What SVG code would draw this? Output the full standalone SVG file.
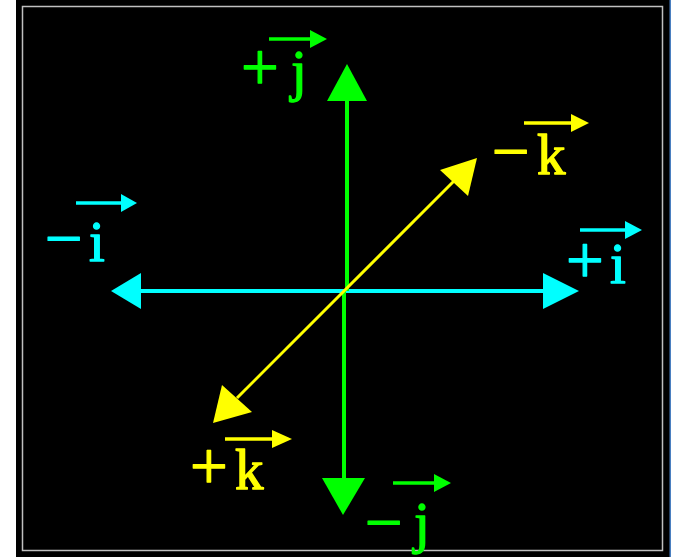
<svg xmlns="http://www.w3.org/2000/svg" width="673" height="557" viewBox="0 0 673 557">
<style>
.lbl{font-family:"Liberation Serif","Times New Roman",serif;font-size:57px;stroke-width:1.3;stroke-linejoin:round}
.sg{font-size:67px}
.c{fill:#00ffff;stroke:#00ffff}
.g{fill:#00ff00;stroke:#00ff00}
.y{fill:#ffff00;stroke:#ffff00}
.vec{stroke-width:3.5}
</style>
<rect x="0" y="0" width="673" height="557" fill="#ffffff"/>
<rect x="16" y="0" width="654" height="557" fill="#000000"/>
<rect x="669.5" y="0" width="1.5" height="557" fill="#4a7fc0"/>
<rect x="22.5" y="6.5" width="640" height="544" fill="none" stroke="#c0c0c0" stroke-width="1.5"/>
<g id="connectors">
  <line x1="141" y1="291" x2="545" y2="291" stroke="#00ffff" stroke-width="4"/>
  <polygon points="111,291 141,273 141,309" fill="#00ffff"/>
  <polygon points="579,291 543,273 543,309" fill="#00ffff"/>
  <line x1="347" y1="100" x2="347" y2="291" stroke="#00ff00" stroke-width="4"/>
  <line x1="344" y1="291" x2="344" y2="480" stroke="#00ff00" stroke-width="4"/>
  <polygon points="347,64 327,101 367,101" fill="#00ff00"/>
  <polygon points="343,515 322,478 365,478" fill="#00ff00"/>
  <line x1="237" y1="398" x2="455" y2="180" stroke="#ffff00" stroke-width="3"/>
  <polygon points="213,423 222,385 252,412" fill="#ffff00"/>
  <polygon points="477,158 468,196 440,170" fill="#ffff00"/>
</g>
<g id="label-plus-j">
  <line x1="269" y1="39" x2="312" y2="39" stroke="#00ff00" class="vec"/>
  <polygon points="327,39 310,30 310,48" fill="#00ff00"/>
  <text class="lbl g"><tspan class="sg" x="241" y="90">+</tspan><tspan x="291" y="90">j</tspan></text>
</g>
<g id="label-minus-i">
  <line x1="76" y1="203" x2="123" y2="203" stroke="#00ffff" class="vec"/>
  <polygon points="137,203 121,194 121,212" fill="#00ffff"/>
  <text class="lbl c"><tspan class="sg" x="45" y="261">−</tspan><tspan x="89" y="261">i</tspan></text>
</g>
<g id="label-minus-k">
  <line x1="524" y1="123" x2="573" y2="123" stroke="#ffff00" class="vec"/>
  <polygon points="589,123 571,114 571,132" fill="#ffff00"/>
  <text class="lbl y"><tspan class="sg" x="492" y="174">−</tspan><tspan x="537" y="174">k</tspan></text>
</g>
<g id="label-plus-i">
  <line x1="580" y1="230" x2="627" y2="230" stroke="#00ffff" class="vec"/>
  <polygon points="642,230 625,221 625,239" fill="#00ffff"/>
  <text class="lbl c"><tspan class="sg" x="566" y="283">+</tspan><tspan x="610" y="283">i</tspan></text>
</g>
<g id="label-plus-k">
  <line x1="225" y1="439" x2="274" y2="439" stroke="#ffff00" class="vec"/>
  <polygon points="292,439 272,430 272,448" fill="#ffff00"/>
  <text class="lbl y"><tspan class="sg" x="190" y="489">+</tspan><tspan x="235" y="489">k</tspan></text>
</g>
<g id="label-minus-j">
  <line x1="393" y1="483" x2="436" y2="483" stroke="#00ff00" class="vec"/>
  <polygon points="451,483 434,474 434,492" fill="#00ff00"/>
  <text class="lbl g"><tspan class="sg" x="365" y="545">−</tspan><tspan x="414" y="542">j</tspan></text>
</g>
</svg>
